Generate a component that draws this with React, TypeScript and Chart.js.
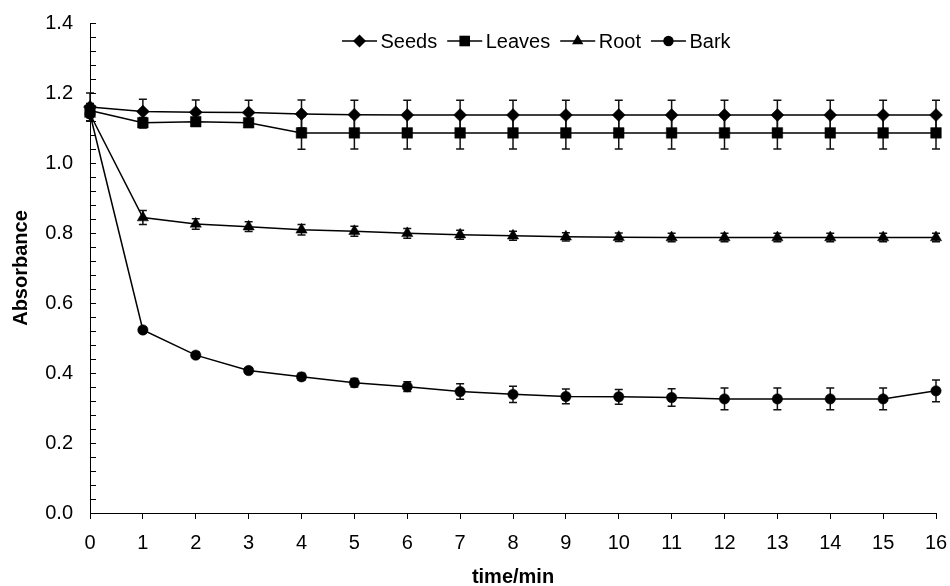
import React, { useEffect, useRef } from "react";
import { Chart, registerables } from "chart.js";

Chart.register(...registerables);

// ---- data ----
const times = [0, 1, 2, 3, 4, 5, 6, 7, 8, 9, 10, 11, 12, 13, 14, 15, 16];

const seeds = [1.16, 1.147, 1.145, 1.144, 1.14, 1.138, 1.137, 1.137, 1.137, 1.137, 1.137, 1.137, 1.137, 1.137, 1.137, 1.137, 1.137];
const seedsErr = [0.04, 0.035, 0.035, 0.035, 0.04, 0.041, 0.042, 0.042, 0.042, 0.042, 0.042, 0.042, 0.042, 0.042, 0.042, 0.042, 0.042];

const leaves = [1.15, 1.115, 1.118, 1.115, 1.086, 1.086, 1.086, 1.086, 1.086, 1.086, 1.086, 1.086, 1.086, 1.086, 1.086, 1.086, 1.086];
const leavesErr = [0.02, 0.015, 0.01, 0.01, 0.047, 0.046, 0.046, 0.046, 0.046, 0.046, 0.046, 0.046, 0.046, 0.046, 0.046, 0.046, 0.046];

const root = [1.14, 0.844, 0.826, 0.818, 0.809, 0.805, 0.799, 0.795, 0.792, 0.789, 0.788, 0.787, 0.787, 0.787, 0.787, 0.787, 0.787];
const rootErr = [0.02, 0.02, 0.015, 0.014, 0.015, 0.014, 0.014, 0.013, 0.013, 0.012, 0.012, 0.012, 0.012, 0.012, 0.012, 0.012, 0.012];

const bark = [1.14, 0.523, 0.451, 0.407, 0.389, 0.372, 0.361, 0.347, 0.339, 0.333, 0.332, 0.33, 0.326, 0.326, 0.326, 0.326, 0.349];
const barkErr = [0.02, 0.008, 0.008, 0.008, 0.01, 0.012, 0.014, 0.022, 0.023, 0.021, 0.021, 0.025, 0.031, 0.031, 0.031, 0.031, 0.031];

const seriesNames = ["Seeds", "Leaves", "Root", "Bark"];
const seriesValues = [seeds, leaves, root, bark];
const seriesErrors = [seedsErr, leavesErr, rootErr, barkErr];
const seriesMarkers = ["rectRot", "rect", "triangle", "circle"];
const markerRadius = [6.5, 7.5, 6.5, 5.2];

const xTitle = "time/min";
const yTitle = "Absorbance";

const FONT = "'Liberation Sans', Arial, Helvetica, sans-serif";
const FONT_SIZE = 20;

function drawMarker(ctx: CanvasRenderingContext2D, style: string, x: number, y: number, r: number) {
  ctx.beginPath();
  if (style === "rectRot") {
    ctx.moveTo(x, y - r);
    ctx.lineTo(x + r, y);
    ctx.lineTo(x, y + r);
    ctx.lineTo(x - r, y);
    ctx.closePath();
  } else if (style === "rect") {
    const s = r * Math.SQRT1_2;
    ctx.rect(x - s, y - s, 2 * s, 2 * s);
  } else if (style === "triangle") {
    ctx.moveTo(x, y - r);
    ctx.lineTo(x + r * Math.sin(Math.PI / 3), y + r / 2);
    ctx.lineTo(x - r * Math.sin(Math.PI / 3), y + r / 2);
    ctx.closePath();
  } else {
    ctx.arc(x, y, r, 0, Math.PI * 2);
  }
  ctx.fill();
}

const errorBarPlugin = {
  id: "errorBars",
  beforeDatasetsDraw(chart: any) {
    const { ctx, scales } = chart;
    const xs = scales.x;
    const ys = scales.y;
    ctx.save();
    ctx.strokeStyle = "#111";
    ctx.lineWidth = 1.5;
    seriesValues.forEach((vals, si) => {
      const errs = seriesErrors[si];
      vals.forEach((v, i) => {
        const e = errs[i];
        if (!e) return;
        const px = xs.getPixelForValue(times[i]);
        const top = ys.getPixelForValue(v + e);
        const bot = ys.getPixelForValue(v - e);
        ctx.beginPath();
        ctx.moveTo(px, top);
        ctx.lineTo(px, bot);
        ctx.moveTo(px - 4, top);
        ctx.lineTo(px + 4, top);
        ctx.moveTo(px - 4, bot);
        ctx.lineTo(px + 4, bot);
        ctx.stroke();
      });
    });
    ctx.restore();
  },
};

const innerTicksPlugin = {
  id: "innerTicks",
  afterDraw(chart: any) {
    const { ctx, scales } = chart;
    const ys = scales.y;
    const left = chart.chartArea.left;
    ctx.save();
    ctx.strokeStyle = "#000";
    ctx.lineWidth = 1;
    for (let k = 0; k <= 35; k++) {
      const v = k * 0.04;
      const py = Math.round(ys.getPixelForValue(v)) + 0.5;
      ctx.beginPath();
      ctx.moveTo(left, py);
      ctx.lineTo(left + 6, py);
      ctx.stroke();
    }
    ctx.restore();
  },
};

const customLegendPlugin = {
  id: "customLegend",
  afterDraw(chart: any) {
    const { ctx } = chart;
    ctx.save();
    ctx.font = `${FONT_SIZE}px ${FONT}`;
    ctx.textBaseline = "middle";
    ctx.textAlign = "left";
    let x = 342;
    const y = 41;
    const lineLen = 35;
    seriesNames.forEach((name, i) => {
      ctx.strokeStyle = "#000";
      ctx.fillStyle = "#000";
      ctx.lineWidth = 1.5;
      ctx.beginPath();
      ctx.moveTo(x, y);
      ctx.lineTo(x + lineLen, y);
      ctx.stroke();
      drawMarker(ctx, seriesMarkers[i], x + lineLen / 2, y, markerRadius[i]);
      const tx = x + lineLen + 3.5;
      ctx.fillText(name, tx, y + 1);
      x = tx + ctx.measureText(name).width + 10;
    });
    ctx.restore();
  },
};

export default function App() {
  const ref = useRef<HTMLCanvasElement | null>(null);

  useEffect(() => {
    document.body.style.margin = "0";
    const canvas = ref.current;
    if (!canvas) return;
    const datasets = seriesValues.map((vals, si) => ({
      label: seriesNames[si],
      data: vals.map((v, i) => ({ x: times[i], y: v })),
      borderColor: "#000",
      backgroundColor: "#000",
      borderWidth: 1.5,
      pointStyle: seriesMarkers[si],
      pointRadius: markerRadius[si],
      pointBackgroundColor: "#000",
      pointBorderColor: "#000",
      pointBorderWidth: 0.5,
      tension: 0,
      clip: false as any,
    }));

    const chart = new Chart(canvas, {
      type: "line",
      data: { datasets },
      options: {
        animation: false,
        responsive: false,
        maintainAspectRatio: false,
        layout: { padding: { left: 0, top: 23, right: 14, bottom: 0 } },
        plugins: {
          legend: { display: false },
          tooltip: { enabled: false },
        },
        scales: {
          x: {
            type: "linear",
            min: 0,
            max: 16,
            afterFit: (s: any) => {
              s.height = 73;
              s.paddingLeft = 0;
              s.paddingRight = 0;
            },
            ticks: {
              stepSize: 1,
              autoSkip: false,
              maxRotation: 0,
              color: "#000",
              padding: 12,
              font: { family: FONT, size: FONT_SIZE },
            },
            grid: {
              display: true,
              drawOnChartArea: false,
              drawTicks: true,
              tickLength: 6,
              color: "#000",
              tickColor: "#000",
              lineWidth: 1,
            },
            border: { display: true, color: "#000", width: 1 },
            title: {
              display: true,
              text: xTitle,
              color: "#000",
              font: { family: FONT, size: FONT_SIZE, weight: "bold", lineHeight: 0.9 },
              padding: { top: 0, bottom: 0 },
            },
          },
          y: {
            type: "linear",
            min: 0,
            max: 1.4,
            afterFit: (s: any) => {
              s.width = 90;
              s.paddingTop = 0;
              s.paddingBottom = 0;
            },
            ticks: {
              stepSize: 0.2,
              color: "#000",
              padding: 17,
              font: { family: FONT, size: FONT_SIZE },
              callback: (v: any) => Number(v).toFixed(1),
            },
            grid: {
              display: true,
              drawOnChartArea: false,
              drawTicks: false,
            },
            border: { display: true, color: "#000", width: 1 },
            title: {
              display: true,
              text: yTitle,
              color: "#000",
              font: { family: FONT, size: FONT_SIZE, weight: "bold" },
              padding: { top: 9.5, bottom: 0 },
            },
          },
        },
      },
      plugins: [errorBarPlugin, innerTicksPlugin, customLegendPlugin],
    });
    return () => chart.destroy();
  }, []);

  return (
    <div style={{ width: 950, height: 586, background: "#fff" }}>
      <canvas ref={ref} width={950} height={586} style={{ display: "block", width: 950, height: 586 }} />
    </div>
  );
}
